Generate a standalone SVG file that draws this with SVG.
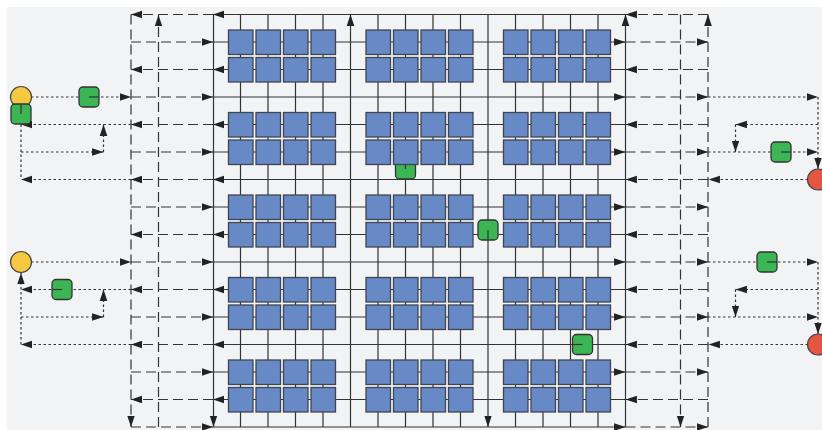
<svg xmlns="http://www.w3.org/2000/svg" width="822" height="430" viewBox="0 0 822 430">
<style>
.e{fill:none;stroke:#333;stroke-width:1.2}
.d{stroke-dasharray:10 5}
.t{stroke-dasharray:2.5 2.5}
.b{fill:#6789c5;stroke:#3f4552;stroke-width:1.3}
.g{fill:#3cb554;stroke:#333;stroke-width:1.3}
.k{fill:none;stroke:#333;stroke-width:1.2}
.y{fill:#f5c842;stroke:#444;stroke-width:1.2}
.r{fill:#e55542;stroke:#444;stroke-width:1.2}
</style>
<defs>
<marker id="a" markerUnits="userSpaceOnUse" markerWidth="12" markerHeight="10" viewBox="0 0 11 8" refX="10.5" refY="4" orient="auto"><path d="M0,0.5 L10.5,4 L0,7.5 Z" fill="#222"/></marker>
</defs>
<rect x="7" y="7" width="815" height="423" fill="#f2f3f5"/>
<g id="connectors">
<g id="solid-columns" class="e">
<path d="M240.5,14.5V427M268,14.5V427M295.5,14.5V427M323,14.5V427M378,14.5V427M405.5,14.5V427M433,14.5V427M460.5,14.5V427M515.5,14.5V427M543,14.5V427M570.5,14.5V427M598,14.5V427"/>
</g>
<g id="solid-rows" class="e" marker-end="url(#a)">
<path d="M625.5,14.5H213" marker-end="url(#a)"/>
<path d="M213,42H625.5"/>
<path d="M625.5,69.5H213"/>
<path d="M213,97H625.5" marker-end="url(#a)"/>
<path d="M625.5,124.5H213"/>
<path d="M213,152H625.5"/>
<path d="M625.5,179.5H213" marker-end="url(#a)"/>
<path d="M213,207H625.5"/>
<path d="M625.5,234.5H213"/>
<path d="M213,262H625.5" marker-end="url(#a)"/>
<path d="M625.5,289.5H213"/>
<path d="M213,317H625.5"/>
<path d="M625.5,344.5H213" marker-end="url(#a)"/>
<path d="M213,372H625.5"/>
<path d="M625.5,399.5H213"/>
<path d="M213,427H625.5" marker-end="url(#a)"/>
</g>
<path class="e" d="M213.5,14.5V427" marker-end="url(#a)"/>
<path class="e" d="M350.5,427V14.5" marker-end="url(#a)"/>
<path class="e" d="M488,14.5V427" marker-end="url(#a)"/>
<path class="e" d="M625.5,427V14.5" marker-end="url(#a)"/>
<g id="dashed-bands">
<path class="e d" d="M131,14.5V427" marker-end="url(#a)"/>
<path class="e d" d="M158.5,427V15" marker-end="url(#a)"/>
<path class="e d" d="M680.5,14.5V427" marker-end="url(#a)"/>
<path class="e d" d="M708,427V14.5" marker-end="url(#a)"/>
<path class="e d" d="M213,14.5H131" marker-end="url(#a)"/>
<path class="e d" d="M131,42H213" marker-end="url(#a)"/>
<path class="e d" d="M213,69.5H131" marker-end="url(#a)"/>
<path class="e d" d="M131,97H213" marker-end="url(#a)"/>
<path class="e d" d="M213,124.5H131" marker-end="url(#a)"/>
<path class="e d" d="M131,152H213" marker-end="url(#a)"/>
<path class="e d" d="M213,179.5H131" marker-end="url(#a)"/>
<path class="e d" d="M131,207H213" marker-end="url(#a)"/>
<path class="e d" d="M213,234.5H131" marker-end="url(#a)"/>
<path class="e d" d="M131,262H213" marker-end="url(#a)"/>
<path class="e d" d="M213,289.5H131" marker-end="url(#a)"/>
<path class="e d" d="M131,317H213" marker-end="url(#a)"/>
<path class="e d" d="M213,344.5H131" marker-end="url(#a)"/>
<path class="e d" d="M131,372H213" marker-end="url(#a)"/>
<path class="e d" d="M213,399.5H131" marker-end="url(#a)"/>
<path class="e d" d="M131,427H213" marker-end="url(#a)"/>
<path class="e d" d="M708,14.5H625.5" marker-end="url(#a)"/>
<path class="e d" d="M625.5,42H708" marker-end="url(#a)"/>
<path class="e d" d="M708,69.5H625.5" marker-end="url(#a)"/>
<path class="e d" d="M625.5,97H708" marker-end="url(#a)"/>
<path class="e d" d="M708,124.5H625.5" marker-end="url(#a)"/>
<path class="e d" d="M625.5,152H708" marker-end="url(#a)"/>
<path class="e d" d="M708,179.5H625.5" marker-end="url(#a)"/>
<path class="e d" d="M625.5,207H708" marker-end="url(#a)"/>
<path class="e d" d="M708,234.5H625.5" marker-end="url(#a)"/>
<path class="e d" d="M625.5,262H708" marker-end="url(#a)"/>
<path class="e d" d="M708,289.5H625.5" marker-end="url(#a)"/>
<path class="e d" d="M625.5,317H708" marker-end="url(#a)"/>
<path class="e d" d="M708,344.5H625.5" marker-end="url(#a)"/>
<path class="e d" d="M625.5,372H708" marker-end="url(#a)"/>
<path class="e d" d="M708,399.5H625.5" marker-end="url(#a)"/>
<path class="e d" d="M625.5,427H708" marker-end="url(#a)"/>
</g>
<g id="dotted-links">
<path class="e t" d="M31,97H131" marker-end="url(#a)"/>
<path class="e t" d="M131,124.5H21" marker-end="url(#a)"/>
<path class="e t" d="M21,124.5V179.5"/>
<path class="e t" d="M131,179.5H21" marker-end="url(#a)"/>
<path class="e t" d="M21,152H103.5" marker-end="url(#a)"/>
<path class="e t" d="M103.5,152V124.5" marker-end="url(#a)"/>
<path class="e t" d="M31,262H131" marker-end="url(#a)"/>
<path class="e t" d="M131,289.5H21" marker-end="url(#a)"/>
<path class="e t" d="M21,344.5V273" marker-end="url(#a)"/>
<path class="e t" d="M131,344.5H21" marker-end="url(#a)"/>
<path class="e t" d="M21,317H103.5" marker-end="url(#a)"/>
<path class="e t" d="M103.5,317V289.5" marker-end="url(#a)"/>
<path class="e t" d="M708,97H818" marker-end="url(#a)"/>
<path class="e t" d="M818,97V169" marker-end="url(#a)"/>
<path class="e t" d="M818,124.5H735.5" marker-end="url(#a)"/>
<path class="e t" d="M735.5,124.5V152" marker-end="url(#a)"/>
<path class="e t" d="M708,152H818" marker-end="url(#a)"/>
<path class="e t" d="M808,179.5H708.5" marker-end="url(#a)"/>
<path class="e t" d="M708,262H818" marker-end="url(#a)"/>
<path class="e t" d="M818,262V334" marker-end="url(#a)"/>
<path class="e t" d="M818,289.5H735.5" marker-end="url(#a)"/>
<path class="e t" d="M735.5,289.5V317" marker-end="url(#a)"/>
<path class="e t" d="M708,317H818" marker-end="url(#a)"/>
<path class="e t" d="M808,344.5H708.5" marker-end="url(#a)"/>
</g>
</g>
<g id="src1"><circle class="y" cx="21" cy="97" r="10.5"/></g>
<g id="src2"><circle class="y" cx="21" cy="262" r="10.5"/></g>
<g id="sink1"><circle class="r" cx="818" cy="179.5" r="10.5"/></g>
<g id="sink2"><circle class="r" cx="818" cy="344.5" r="10.5"/></g>
<g id="sw1"><rect class="g" x="11" y="104" width="20" height="20" rx="4"/><path class="k" d="M21,105V114"/></g>
<g id="sw2"><rect class="g" x="79" y="87" width="20" height="20" rx="4"/><path class="k" d="M89,97H99"/></g>
<g id="sw3"><rect class="g" x="52" y="279.5" width="20" height="20" rx="4"/><path class="k" d="M52,289.5H62"/></g>
<g id="sw4"><rect class="g" x="771" y="142" width="20" height="20" rx="4"/><path class="k" d="M781,152H791"/></g>
<g id="sw5"><rect class="g" x="757" y="252" width="20" height="20" rx="4"/><path class="k" d="M767,262H777"/></g>
<g id="sw6"><rect class="g" x="395.5" y="159" width="20" height="20" rx="4"/><path class="k" d="M405.5,164V169"/></g>
<g id="sw7"><rect class="g" x="478" y="220" width="20" height="20" rx="4"/><path class="k" d="M488,230V240"/></g>
<g id="sw8"><rect class="g" x="572.5" y="334.5" width="20" height="20" rx="4"/><path class="k" d="M572.5,344.5H582.5"/></g>
<g id="n-1-1"><rect class="b" x="228.5" y="30" width="24.5" height="24.5"/></g><g id="n-1-2"><rect class="b" x="256" y="30" width="24.5" height="24.5"/></g><g id="n-1-3"><rect class="b" x="283.5" y="30" width="24.5" height="24.5"/></g><g id="n-1-4"><rect class="b" x="311" y="30" width="24.5" height="24.5"/></g><g id="n-1-5"><rect class="b" x="366" y="30" width="24.5" height="24.5"/></g><g id="n-1-6"><rect class="b" x="393.5" y="30" width="24.5" height="24.5"/></g><g id="n-1-7"><rect class="b" x="421" y="30" width="24.5" height="24.5"/></g><g id="n-1-8"><rect class="b" x="448.5" y="30" width="24.5" height="24.5"/></g><g id="n-1-9"><rect class="b" x="503.5" y="30" width="24.5" height="24.5"/></g><g id="n-1-10"><rect class="b" x="531" y="30" width="24.5" height="24.5"/></g><g id="n-1-11"><rect class="b" x="558.5" y="30" width="24.5" height="24.5"/></g><g id="n-1-12"><rect class="b" x="586" y="30" width="24.5" height="24.5"/></g>
<g id="n-2-1"><rect class="b" x="228.5" y="57.5" width="24.5" height="24.5"/></g><g id="n-2-2"><rect class="b" x="256" y="57.5" width="24.5" height="24.5"/></g><g id="n-2-3"><rect class="b" x="283.5" y="57.5" width="24.5" height="24.5"/></g><g id="n-2-4"><rect class="b" x="311" y="57.5" width="24.5" height="24.5"/></g><g id="n-2-5"><rect class="b" x="366" y="57.5" width="24.5" height="24.5"/></g><g id="n-2-6"><rect class="b" x="393.5" y="57.5" width="24.5" height="24.5"/></g><g id="n-2-7"><rect class="b" x="421" y="57.5" width="24.5" height="24.5"/></g><g id="n-2-8"><rect class="b" x="448.5" y="57.5" width="24.5" height="24.5"/></g><g id="n-2-9"><rect class="b" x="503.5" y="57.5" width="24.5" height="24.5"/></g><g id="n-2-10"><rect class="b" x="531" y="57.5" width="24.5" height="24.5"/></g><g id="n-2-11"><rect class="b" x="558.5" y="57.5" width="24.5" height="24.5"/></g><g id="n-2-12"><rect class="b" x="586" y="57.5" width="24.5" height="24.5"/></g>
<g id="n-3-1"><rect class="b" x="228.5" y="112.5" width="24.5" height="24.5"/></g><g id="n-3-2"><rect class="b" x="256" y="112.5" width="24.5" height="24.5"/></g><g id="n-3-3"><rect class="b" x="283.5" y="112.5" width="24.5" height="24.5"/></g><g id="n-3-4"><rect class="b" x="311" y="112.5" width="24.5" height="24.5"/></g><g id="n-3-5"><rect class="b" x="366" y="112.5" width="24.5" height="24.5"/></g><g id="n-3-6"><rect class="b" x="393.5" y="112.5" width="24.5" height="24.5"/></g><g id="n-3-7"><rect class="b" x="421" y="112.5" width="24.5" height="24.5"/></g><g id="n-3-8"><rect class="b" x="448.5" y="112.5" width="24.5" height="24.5"/></g><g id="n-3-9"><rect class="b" x="503.5" y="112.5" width="24.5" height="24.5"/></g><g id="n-3-10"><rect class="b" x="531" y="112.5" width="24.5" height="24.5"/></g><g id="n-3-11"><rect class="b" x="558.5" y="112.5" width="24.5" height="24.5"/></g><g id="n-3-12"><rect class="b" x="586" y="112.5" width="24.5" height="24.5"/></g>
<g id="n-4-1"><rect class="b" x="228.5" y="140" width="24.5" height="24.5"/></g><g id="n-4-2"><rect class="b" x="256" y="140" width="24.5" height="24.5"/></g><g id="n-4-3"><rect class="b" x="283.5" y="140" width="24.5" height="24.5"/></g><g id="n-4-4"><rect class="b" x="311" y="140" width="24.5" height="24.5"/></g><g id="n-4-5"><rect class="b" x="366" y="140" width="24.5" height="24.5"/></g><g id="n-4-6"><rect class="b" x="393.5" y="140" width="24.5" height="24.5"/></g><g id="n-4-7"><rect class="b" x="421" y="140" width="24.5" height="24.5"/></g><g id="n-4-8"><rect class="b" x="448.5" y="140" width="24.5" height="24.5"/></g><g id="n-4-9"><rect class="b" x="503.5" y="140" width="24.5" height="24.5"/></g><g id="n-4-10"><rect class="b" x="531" y="140" width="24.5" height="24.5"/></g><g id="n-4-11"><rect class="b" x="558.5" y="140" width="24.5" height="24.5"/></g><g id="n-4-12"><rect class="b" x="586" y="140" width="24.5" height="24.5"/></g>
<g id="n-5-1"><rect class="b" x="228.5" y="195" width="24.5" height="24.5"/></g><g id="n-5-2"><rect class="b" x="256" y="195" width="24.5" height="24.5"/></g><g id="n-5-3"><rect class="b" x="283.5" y="195" width="24.5" height="24.5"/></g><g id="n-5-4"><rect class="b" x="311" y="195" width="24.5" height="24.5"/></g><g id="n-5-5"><rect class="b" x="366" y="195" width="24.5" height="24.5"/></g><g id="n-5-6"><rect class="b" x="393.5" y="195" width="24.5" height="24.5"/></g><g id="n-5-7"><rect class="b" x="421" y="195" width="24.5" height="24.5"/></g><g id="n-5-8"><rect class="b" x="448.5" y="195" width="24.5" height="24.5"/></g><g id="n-5-9"><rect class="b" x="503.5" y="195" width="24.5" height="24.5"/></g><g id="n-5-10"><rect class="b" x="531" y="195" width="24.5" height="24.5"/></g><g id="n-5-11"><rect class="b" x="558.5" y="195" width="24.5" height="24.5"/></g><g id="n-5-12"><rect class="b" x="586" y="195" width="24.5" height="24.5"/></g>
<g id="n-6-1"><rect class="b" x="228.5" y="222.5" width="24.5" height="24.5"/></g><g id="n-6-2"><rect class="b" x="256" y="222.5" width="24.5" height="24.5"/></g><g id="n-6-3"><rect class="b" x="283.5" y="222.5" width="24.5" height="24.5"/></g><g id="n-6-4"><rect class="b" x="311" y="222.5" width="24.5" height="24.5"/></g><g id="n-6-5"><rect class="b" x="366" y="222.5" width="24.5" height="24.5"/></g><g id="n-6-6"><rect class="b" x="393.5" y="222.5" width="24.5" height="24.5"/></g><g id="n-6-7"><rect class="b" x="421" y="222.5" width="24.5" height="24.5"/></g><g id="n-6-8"><rect class="b" x="448.5" y="222.5" width="24.5" height="24.5"/></g><g id="n-6-9"><rect class="b" x="503.5" y="222.5" width="24.5" height="24.5"/></g><g id="n-6-10"><rect class="b" x="531" y="222.5" width="24.5" height="24.5"/></g><g id="n-6-11"><rect class="b" x="558.5" y="222.5" width="24.5" height="24.5"/></g><g id="n-6-12"><rect class="b" x="586" y="222.5" width="24.5" height="24.5"/></g>
<g id="n-7-1"><rect class="b" x="228.5" y="277.5" width="24.5" height="24.5"/></g><g id="n-7-2"><rect class="b" x="256" y="277.5" width="24.5" height="24.5"/></g><g id="n-7-3"><rect class="b" x="283.5" y="277.5" width="24.5" height="24.5"/></g><g id="n-7-4"><rect class="b" x="311" y="277.5" width="24.5" height="24.5"/></g><g id="n-7-5"><rect class="b" x="366" y="277.5" width="24.5" height="24.5"/></g><g id="n-7-6"><rect class="b" x="393.5" y="277.5" width="24.5" height="24.5"/></g><g id="n-7-7"><rect class="b" x="421" y="277.5" width="24.5" height="24.5"/></g><g id="n-7-8"><rect class="b" x="448.5" y="277.5" width="24.5" height="24.5"/></g><g id="n-7-9"><rect class="b" x="503.5" y="277.5" width="24.5" height="24.5"/></g><g id="n-7-10"><rect class="b" x="531" y="277.5" width="24.5" height="24.5"/></g><g id="n-7-11"><rect class="b" x="558.5" y="277.5" width="24.5" height="24.5"/></g><g id="n-7-12"><rect class="b" x="586" y="277.5" width="24.5" height="24.5"/></g>
<g id="n-8-1"><rect class="b" x="228.5" y="305" width="24.5" height="24.5"/></g><g id="n-8-2"><rect class="b" x="256" y="305" width="24.5" height="24.5"/></g><g id="n-8-3"><rect class="b" x="283.5" y="305" width="24.5" height="24.5"/></g><g id="n-8-4"><rect class="b" x="311" y="305" width="24.5" height="24.5"/></g><g id="n-8-5"><rect class="b" x="366" y="305" width="24.5" height="24.5"/></g><g id="n-8-6"><rect class="b" x="393.5" y="305" width="24.5" height="24.5"/></g><g id="n-8-7"><rect class="b" x="421" y="305" width="24.5" height="24.5"/></g><g id="n-8-8"><rect class="b" x="448.5" y="305" width="24.5" height="24.5"/></g><g id="n-8-9"><rect class="b" x="503.5" y="305" width="24.5" height="24.5"/></g><g id="n-8-10"><rect class="b" x="531" y="305" width="24.5" height="24.5"/></g><g id="n-8-11"><rect class="b" x="558.5" y="305" width="24.5" height="24.5"/></g><g id="n-8-12"><rect class="b" x="586" y="305" width="24.5" height="24.5"/></g>
<g id="n-9-1"><rect class="b" x="228.5" y="360" width="24.5" height="24.5"/></g><g id="n-9-2"><rect class="b" x="256" y="360" width="24.5" height="24.5"/></g><g id="n-9-3"><rect class="b" x="283.5" y="360" width="24.5" height="24.5"/></g><g id="n-9-4"><rect class="b" x="311" y="360" width="24.5" height="24.5"/></g><g id="n-9-5"><rect class="b" x="366" y="360" width="24.5" height="24.5"/></g><g id="n-9-6"><rect class="b" x="393.5" y="360" width="24.5" height="24.5"/></g><g id="n-9-7"><rect class="b" x="421" y="360" width="24.5" height="24.5"/></g><g id="n-9-8"><rect class="b" x="448.5" y="360" width="24.5" height="24.5"/></g><g id="n-9-9"><rect class="b" x="503.5" y="360" width="24.5" height="24.5"/></g><g id="n-9-10"><rect class="b" x="531" y="360" width="24.5" height="24.5"/></g><g id="n-9-11"><rect class="b" x="558.5" y="360" width="24.5" height="24.5"/></g><g id="n-9-12"><rect class="b" x="586" y="360" width="24.5" height="24.5"/></g>
<g id="n-10-1"><rect class="b" x="228.5" y="387.5" width="24.5" height="24.5"/></g><g id="n-10-2"><rect class="b" x="256" y="387.5" width="24.5" height="24.5"/></g><g id="n-10-3"><rect class="b" x="283.5" y="387.5" width="24.5" height="24.5"/></g><g id="n-10-4"><rect class="b" x="311" y="387.5" width="24.5" height="24.5"/></g><g id="n-10-5"><rect class="b" x="366" y="387.5" width="24.5" height="24.5"/></g><g id="n-10-6"><rect class="b" x="393.5" y="387.5" width="24.5" height="24.5"/></g><g id="n-10-7"><rect class="b" x="421" y="387.5" width="24.5" height="24.5"/></g><g id="n-10-8"><rect class="b" x="448.5" y="387.5" width="24.5" height="24.5"/></g><g id="n-10-9"><rect class="b" x="503.5" y="387.5" width="24.5" height="24.5"/></g><g id="n-10-10"><rect class="b" x="531" y="387.5" width="24.5" height="24.5"/></g><g id="n-10-11"><rect class="b" x="558.5" y="387.5" width="24.5" height="24.5"/></g><g id="n-10-12"><rect class="b" x="586" y="387.5" width="24.5" height="24.5"/></g>
</svg>
